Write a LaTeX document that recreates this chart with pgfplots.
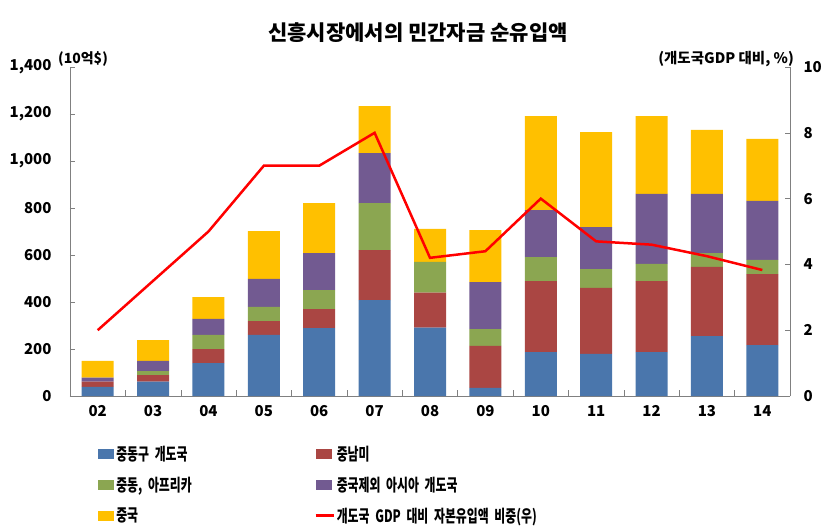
\documentclass[border=0pt]{standalone}
\usepackage{pgfplots}
\pgfplotsset{compat=1.18}
\usepackage{pgfplotstable}
\usepackage{fontspec}
\setmainfont{Noto Sans CJK KR}
\newfontfamily\legfont{Noto Sans CJK KR}[FakeStretch=0.7]

\definecolor{cblue}{HTML}{4A76AC}
\definecolor{cred}{HTML}{AA4643}
\definecolor{cgreen}{HTML}{8BA651}
\definecolor{cpurple}{HTML}{725A91}
\definecolor{cyellow}{HTML}{FFC000}

\pgfplotsset{
    boxlegend/.style={legend image code/.code={\fill[##1] (0pt,-5pt) rectangle (16pt,5pt);}},
    linelegend/.style={legend image code/.code={\draw[##1] (0pt,0pt) -- (18pt,0pt);}},
}

% stacked segments (10억$), x = 0..12 for 2002..2014
\pgfplotstableread{
x blue red green purple yellow
0 39 22 0 17 71
1 61 28 17 43 89
2 140 60 60 68 93
3 260 59 60 119 204
4 289 81 81 157 213
5 408 213 200 213 200
6 291 149 131 0 140
7 35 178 72 200 221
8 187 302 102 200 400
9 179 281 80 179 404
10 187 302 73 298 331
11 255 294 59 252 272
12 217 302 60 251 264
}\bars

\begin{document}
\begin{tikzpicture}
\path[use as bounding box] (0,0) rectangle (833pt,531pt);
\begin{axis}[
    at={(70pt,135pt)}, anchor=south west,
    scale only axis, width=720pt, height=329pt,
    ybar stacked, bar width=32pt,
    xmin=-0.5, xmax=12.5, ymin=0, ymax=1400,
    xtick={0,...,12},
    xticklabels={02,03,04,05,06,07,08,09,10,11,12,13,14},
    minor xtick={0.5,1.5,...,11.5},
    major x tick style={draw=none},
    ytick={0,200,...,1400},
    yticklabels={0,200,400,600,800,{1,000},{1,200},{1,400}},
    axis x line*=bottom, axis y line*=left,
    axis line style={-, draw=gray},
    tick style={gray, thin},
    tick align=inside, major tick length=5pt, minor tick length=6pt,
    ticklabel style={font=\bfseries\fontsize{15}{15}\selectfont},
    yticklabel style={xshift=-15pt},
    xticklabel style={yshift=-6pt},
    legend columns=2,
    legend cell align=left,
    legend style={draw=none, at={(0.039,-0.145)}, anchor=north west,
      inner sep=0pt, row sep=11pt,
      font=\legfont\bfseries\fontsize{17}{17}\selectfont,
      nodes={inner sep=2pt, text width=196pt}},
    boxlegend,
]
\addplot[fill=cblue, draw=none] table[x=x, y=blue] {\bars};
\addlegendentry{중동구 개도국}
\addplot[fill=cred, draw=none] table[x=x, y=red] {\bars};
\addlegendentry{중남미}
\addplot[fill=cgreen, draw=none] table[x=x, y=green] {\bars};
\addlegendentry{중동, 아프리카}
\addplot[fill=cpurple, draw=none] table[x=x, y=purple] {\bars};
\addlegendentry{중국제외 아시아 개도국}
\addplot[fill=cyellow, draw=none] table[x=x, y=yellow] {\bars};
\addlegendentry{중국}
\addlegendimage{red, line width=2.5pt, linelegend}
\addlegendentry{\mbox{개도국 GDP 대비 자본유입액 비중(우)}}
\end{axis}
\begin{axis}[
    at={(70pt,135pt)}, anchor=south west,
    scale only axis, width=720pt, height=329pt,
    xmin=-0.5, xmax=12.5, ymin=0, ymax=10,
    axis x line=none, axis y line*=right,
    axis line style={-, draw=gray},
    tick style={gray, thin},
    tick align=inside, major tick length=5pt,
    ytick={0,2,4,6,8,10},
    yticklabels={0,2,4,6,8,10},
    ticklabel style={font=\bfseries\fontsize{15}{15}\selectfont},
    yticklabel style={xshift=10pt},
]
\addplot[red, line width=2.5pt, mark=none] coordinates {
    (0,2.0) (1,3.5) (2,5.0) (3,7.0) (4,7.0) (5,8.0) (6,4.2)
    (7,4.4) (8,6.0) (9,4.7) (10,4.6) (11,4.25) (12,3.83)
};
\end{axis}
\node[anchor=base, inner sep=0pt, font=\bfseries\fontsize{21}{21}\selectfont]
    at (418pt,490pt) {신흥시장에서의 민간자금 순유입액};
\node[anchor=base west, inner sep=0pt, font=\bfseries\fontsize{14}{14}\selectfont]
    at (58pt,467pt) {(10억\$)};
\node[anchor=base east, inner sep=0pt, font=\bfseries\fontsize{14.5}{14.5}\selectfont]
    at (794pt,467pt) {(개도국GDP 대비, \%)};
\end{tikzpicture}
\end{document}
